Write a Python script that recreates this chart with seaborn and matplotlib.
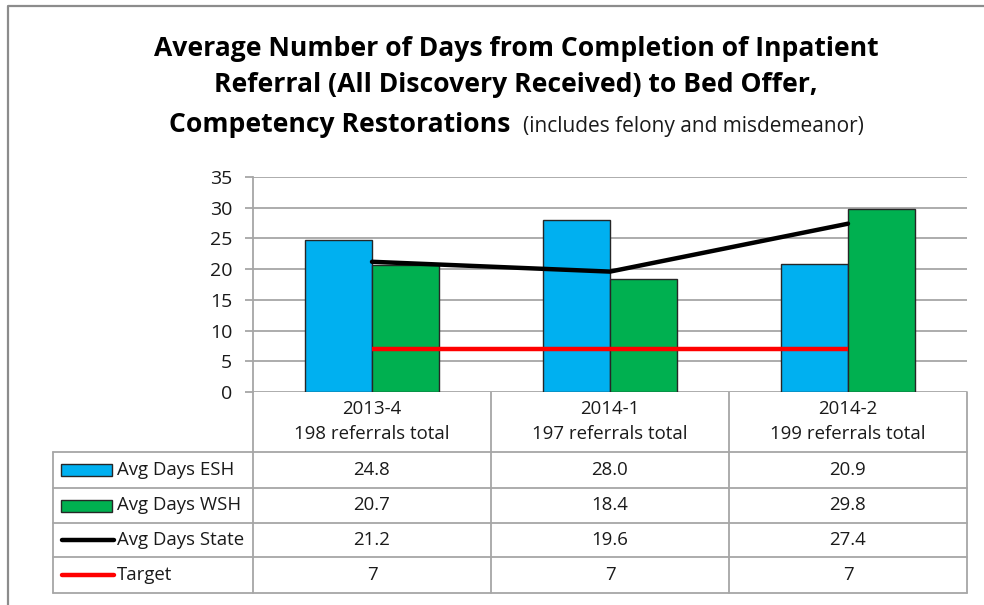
import numpy as np
import pandas as pd
import seaborn as sns
import matplotlib.pyplot as plt
from matplotlib.patches import Rectangle

# data
periods = ['2013-4', '2014-1', '2014-2']
referrals = [198, 197, 199]
avg_esh = [24.8, 28.0, 20.9]
avg_wsh = [20.7, 18.4, 29.8]
avg_state = [21.2, 19.6, 27.4]
target = [7, 7, 7]

series_names = ['Avg Days ESH', 'Avg Days WSH', 'Avg Days State', 'Target']
blue = '#00B0F0'
green = '#00B050'
grid_gray = '#A6A6A6'
text_col = '#1a1a1a'

sns.set_theme(style='white')
plt.rcParams['font.family'] = ['Open Sans', 'DejaVu Sans']

W, H = 984, 605
fig = plt.figure(figsize=(W / 100, H / 100), dpi=100)
fig.patch.set_facecolor('white')

# main plot area, placed in pixels
left, right, top, bottom = 253, 967, 177, 392
ax = fig.add_axes([left / W, 1 - bottom / H, (right - left) / W, (bottom - top) / H])

bars = pd.DataFrame({
    'period': periods * 2,
    'days': avg_esh + avg_wsh,
    'series': ['Avg Days ESH'] * 3 + ['Avg Days WSH'] * 3,
})
sns.barplot(data=bars, x='period', y='days', hue='series', palette=[blue, green],
            width=0.567, gap=0, saturation=1, edgecolor='#262626', linewidth=1,
            legend=False, ax=ax, zorder=2)

xs = np.arange(len(periods))
sns.lineplot(x=xs, y=avg_state, color='black', linewidth=3.2, legend=False, ax=ax,
             zorder=3, solid_capstyle='round')
sns.lineplot(x=xs, y=target, color='#FF0000', linewidth=3.2, legend=False, ax=ax,
             zorder=3, solid_capstyle='butt')

ax.set_xlim(-0.5, len(periods) - 0.5)
ax.set_ylim(0, 35)
ax.set_yticks(range(0, 36, 5))
ax.set_xticks([])
ax.set_xlabel('')
ax.set_ylabel('')
ax.yaxis.grid(True, color=grid_gray, linewidth=1.3, zorder=0)
ax.set_axisbelow(True)
ax.tick_params(axis='y', length=6, width=1.3, color=grid_gray, labelsize=14,
               labelcolor=text_col, pad=9, left=True)
for s in ['top', 'right', 'bottom']:
    ax.spines[s].set_visible(False)
ax.spines['left'].set_color(grid_gray)
ax.spines['left'].set_linewidth(1.3)

# overlay in pixel coordinates for frame, title and data table
ov = fig.add_axes([0, 0, 1, 1], zorder=-1)
ov.set_xlim(0, W)
ov.set_ylim(H, 0)
ov.axis('off')

# outer chart frame (cropped)
ov.plot([8, 8, W], [H, 6, 6], color='#8c8c8c', linewidth=1.6, solid_capstyle='butt')

# title
tfs = 19.1
ov.text(516, 56, 'Average Number of Days from Completion of Inpatient', ha='center',
        va='baseline', fontsize=tfs, fontweight='bold', color='black')
ov.text(516, 92, 'Referral (All Discovery Received) to Bed Offer,', ha='center',
        va='baseline', fontsize=tfs, fontweight='bold', color='black')
t3 = ov.text(169, 132, 'Competency Restorations', ha='left', va='baseline',
             fontsize=tfs, fontweight='bold', color='black')
fig.canvas.draw()
bb = t3.get_window_extent()
ov.text(bb.x1 + 13, 132, '(includes felony and misdemeanor)', ha='left', va='baseline',
        fontsize=15, color=text_col)

# data table
col_edges = [left + i * (right - left) / len(periods) for i in range(len(periods) + 1)]
row_edges = [452, 488, 523, 557, 593]
leg_left = 53
tcol = grid_gray
tlw = 1.3
for x in col_edges:
    ov.plot([x, x], [bottom, row_edges[-1]], color=tcol, linewidth=tlw)
ov.plot([leg_left, leg_left], [row_edges[0], row_edges[-1]], color=tcol, linewidth=tlw)
for y in row_edges:
    ov.plot([leg_left, right], [y, y], color=tcol, linewidth=tlw)

fs = 13.4
centers = [(col_edges[i] + col_edges[i + 1]) / 2 for i in range(len(periods))]
for cx, p, n in zip(centers, periods, referrals):
    ov.text(cx, 409, p, ha='center', va='center', fontsize=fs, color=text_col)
    ov.text(cx, 434, f'{n} referrals total', ha='center', va='center',
            fontsize=fs, color=text_col)

rows = [
    [f'{v:.1f}' for v in avg_esh],
    [f'{v:.1f}' for v in avg_wsh],
    [f'{v:.1f}' for v in avg_state],
    [f'{v:g}' for v in target],
]
for r, (name, vals) in enumerate(zip(series_names, rows)):
    cy = (row_edges[r] + row_edges[r + 1]) / 2
    for cx, v in zip(centers, vals):
        ov.text(cx, cy, v, ha='center', va='center', fontsize=fs, color=text_col)
    if r < 2:
        ov.add_patch(Rectangle((61, cy - 6), 51, 12, facecolor=[blue, green][r],
                               edgecolor='#262626', linewidth=1))
    else:
        ov.plot([62, 114], [cy, cy], color=['black', '#FF0000'][r - 2], linewidth=3.2,
                solid_capstyle='round')
    ov.text(117, cy, name, ha='left', va='center', fontsize=fs, color=text_col)

fig.savefig('out.png', dpi=100, facecolor='white')
